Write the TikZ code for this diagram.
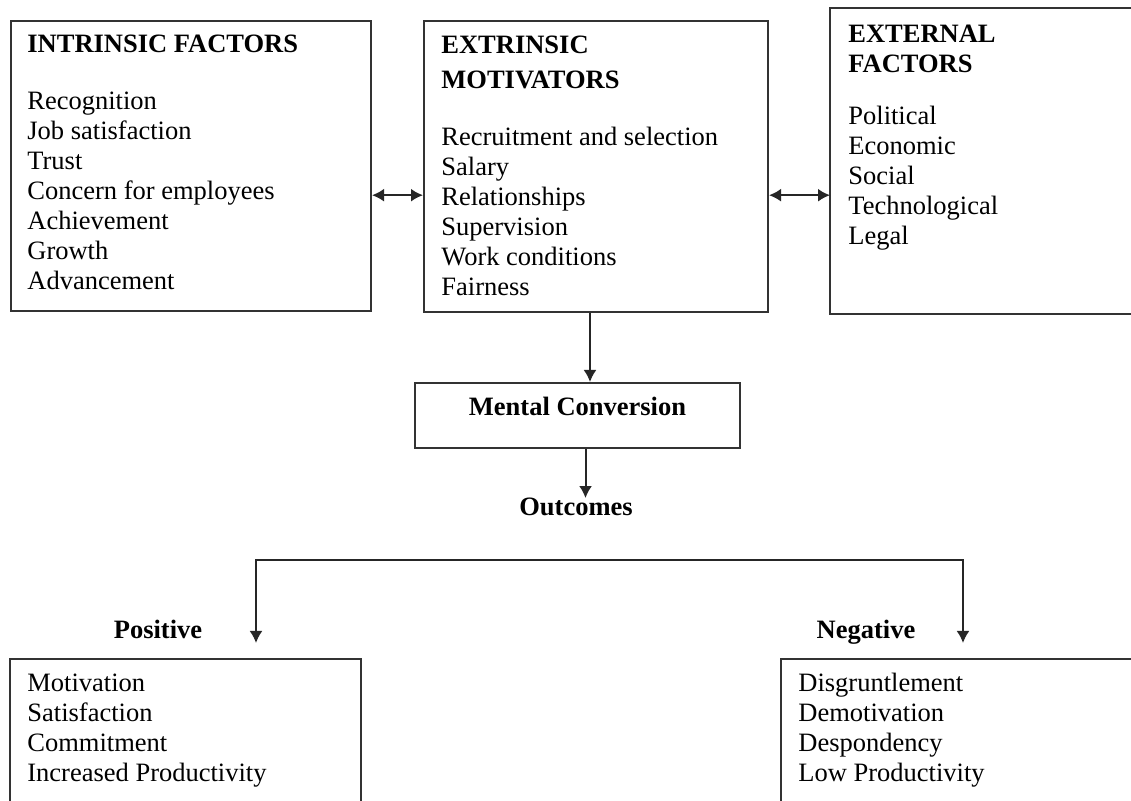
\documentclass[tikz,border=0pt]{standalone}
\usepackage{fontspec}
\setmainfont{Liberation Serif}
\usepackage{tikz}
\usetikzlibrary{calc,arrows.meta}

\tikzset{
  box/.style={draw=black!80,line width=1pt,inner sep=0pt,anchor=north west},
  item/.style={anchor=base west,inner sep=0pt,font=\fontsize{13.25}{15}\selectfont},
  head/.style={item,font=\fontsize{13.25}{15}\selectfont\bfseries},
  arr/.style={draw=black!85,line width=1pt,-{Latex[length=6pt,width=6.5pt]}},
  dbl/.style={arr,{Latex[length=6pt,width=6.5pt]}-{Latex[length=6pt,width=6.5pt]}}
}

\begin{document}
\begin{tikzpicture}[x=0.5pt,y=-0.5pt]
\clip (0,0) rectangle (1131,801);
\fill[white] (0,0) rectangle (1131,801);
% boxes
\node[box,minimum width=180pt,minimum height=145pt] (intr) at (10,20) {};
\node[box,minimum width=172pt,minimum height=145.5pt] (extr) at (423,20) {};
\node[box,draw=none,minimum width=220pt,minimum height=152pt] (extn) at (830,8) {};
\draw[draw=black!80,line width=1pt]
  (extn.north east) -- (extn.north west) -- (extn.south west) -- (extn.south east);
\node[box,minimum width=162.5pt,font=\fontsize{13.25}{15}\selectfont\bfseries,
      text height=16.5pt,text depth=16pt] (ment) at (414,382) {Mental Conversion};
\node[box,minimum width=175.5pt,minimum height=100pt] (pos) at (9,658) {};
\node[box,minimum width=240pt,minimum height=100pt] (neg) at (780,658) {};
% headings
\node[head] (inh) at (27,53) {INTRINSIC FACTORS};
\node[head] (exh1) at (441,54) {EXTRINSIC};
\node[head] (exh2) at (441,89) {MOTIVATORS};
\node[head] (efh1) at (848,43) {EXTERNAL};
\node[head] (efh2) at (848,73) {FACTORS};
\node[head,anchor=base] (outc) at (576,516) {Outcomes};
\node[head,anchor=base] (posh) at (158,639) {Positive};
\node[head,anchor=base] (negh) at (866,639) {Negative};
% lists
\foreach \t [count=\i] in {Recognition,Job satisfaction,Trust,Concern for employees,
    Achievement,Growth,Advancement}
  \node[item] (in\i) at (27,80+30*\i) {\t};
\foreach \t [count=\i] in {Recruitment and selection,Salary,Relationships,Supervision,
    Work conditions,Fairness}
  \node[item] (ex\i) at (441,116+30*\i) {\t};
\foreach \t [count=\i] in {Political,Economic,Social,Technological,Legal}
  \node[item] (ef\i) at (848,95+30*\i) {\t};
\foreach \t [count=\i] in {Motivation,Satisfaction,Commitment,Increased Productivity}
  \node[item] (po\i) at (27,662+30*\i) {\t};
\foreach \t [count=\i] in {Disgruntlement,Demotivation,Despondency,Low Productivity}
  \node[item] (ne\i) at (798,662+30*\i) {\t};
% connectors
\coordinate (lvl) at ($(intr.north east)!.6!(intr.south east)$);
\draw[dbl] (lvl) -- (lvl -| extr.west);
\draw[dbl] (lvl -| extr.east) -- (lvl -| extn.west);
\draw[arr] ([xshift=-3pt]extr.south) -- ([xshift=-3pt]extr.south |- ment.north);
\draw[arr] ([xshift=4pt]ment.south) -- ([xshift=4pt]ment.south |- outc.north);
\coordinate (bl) at (256,560);
\coordinate (br) at (963,560);
\draw[dbl,shorten <=7.5pt,shorten >=7.5pt]
  (bl |- pos.north) -- (bl) -- (br) -- (br |- neg.north);
\end{tikzpicture}
\end{document}
